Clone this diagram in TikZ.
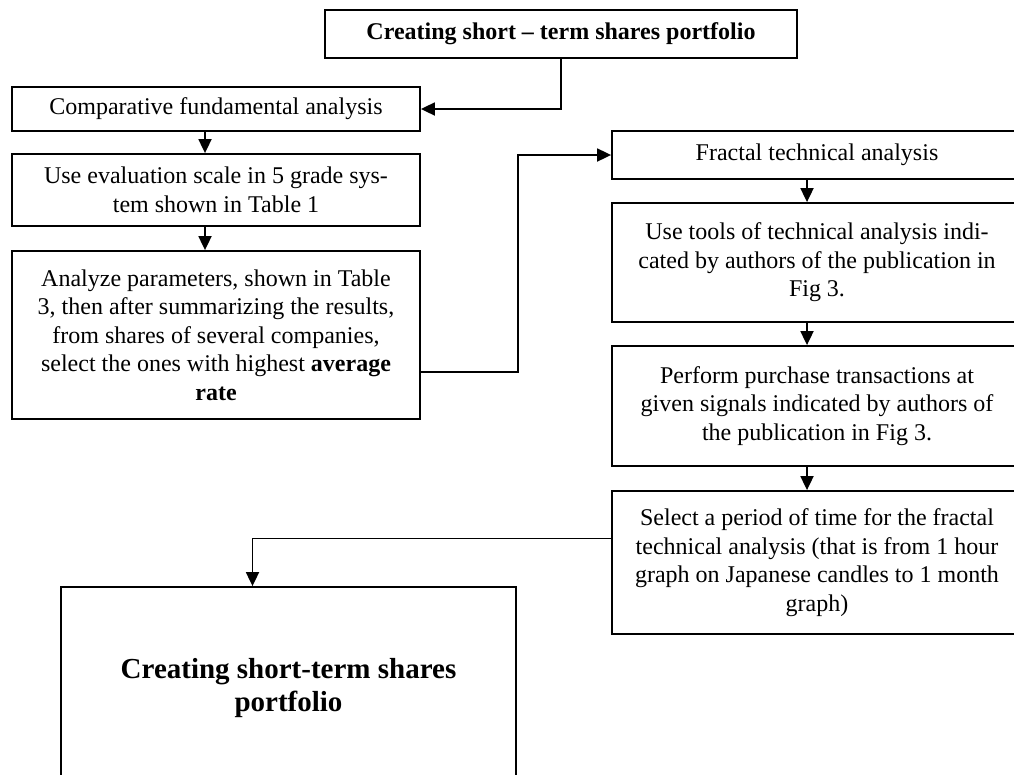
\documentclass[tikz,border=0pt]{standalone}
\usepackage{fontspec}
\setmainfont{Liberation Serif}
\usetikzlibrary{arrows.meta}
\begin{document}
\begin{tikzpicture}[x=1pt, y=-1pt,
  box/.style={draw, line width=1.8pt, inner sep=0pt, align=center, font=\fontsize{24}{28.5}\selectfont},
  arr/.style={draw, line width=1.8pt, -{Triangle[length=14pt,width=13pt]}}]
\useasboundingbox (0,0) rectangle (1014,774);
\clip (0,0) rectangle (1014,774);
\node[box, minimum width=472pt, minimum height=48pt, font=\fontsize{24}{28.5}\selectfont\bfseries] (top) at (561,34) {Creating short -- term shares portfolio};
\node[box, minimum width=408pt, minimum height=44pt] (comp) at (216,109) {Comparative fundamental analysis};
\node[box, minimum width=408pt, minimum height=72pt] (scale) at (216,190) {Use evaluation scale in 5 grade sys-\\tem shown in Table 1};
\node[box, minimum width=408pt, minimum height=168pt] (ana) at (216,335) {Analyze parameters, shown in Table\\3, then after summarizing the results,\\from shares of several companies,\\select the ones with highest \textbf{average}\\\textbf{rate}};
\node[box, minimum width=410pt, minimum height=48pt] (fta) at (817,155) {Fractal technical analysis};
\node[box, minimum width=410pt, minimum height=119pt] (tools) at (817,262.5) {Use tools of technical analysis indi-\\cated by authors of the publication in\\Fig 3.};
\node[box, minimum width=410pt, minimum height=120pt] (perf) at (817,406) {Perform purchase transactions at\\given signals indicated by authors of\\the publication in Fig 3.};
\node[box, minimum width=410pt, minimum height=143pt] (sel) at (817,562.5) {Select a period of time for the fractal\\technical analysis (that is from 1 hour\\graph on Japanese candles to 1 month\\graph)};
\node[box, minimum width=455pt, minimum height=202pt, font=\fontsize{29}{33}\selectfont\bfseries] (fin) at (288.5,688) {Creating short-term shares\\portfolio};
\path[arr] (top.south) |- (comp.east);
\path[arr] ([xshift=-11pt]comp.south) -- ([xshift=-11pt]scale.north);
\path[arr] ([xshift=-11pt]scale.south) -- ([xshift=-11pt]ana.north);
\path[arr] ([yshift=-37pt]ana.east) -- ++(97,0) |- (fta.west);
\path[arr] ([xshift=-10pt]fta.south) -- ([xshift=-10pt]tools.north);
\path[arr] ([xshift=-10pt]tools.south) -- ([xshift=-10pt]perf.north);
\path[arr] ([xshift=-10pt]perf.south) -- ([xshift=-10pt]sel.north);
\path[arr] ([yshift=24pt]sel.west) -| ([xshift=-36pt]fin.north);
\end{tikzpicture}
\end{document}
